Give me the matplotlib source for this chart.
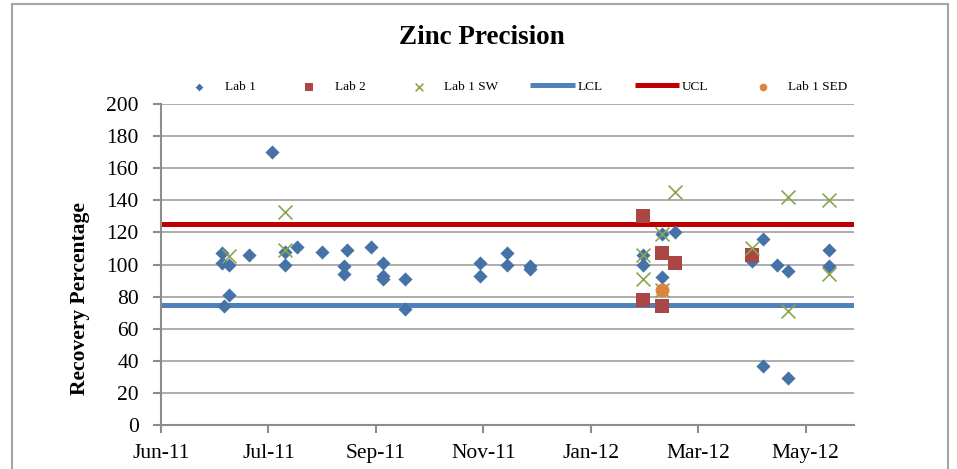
import matplotlib
matplotlib.use("Agg")
import matplotlib.pyplot as plt
import matplotlib.dates as mdates
import matplotlib.patches as mpatches
import numpy as np
import pandas as pd

# ---- data -------------------------------------------------------------
lab1_dates = ["2011-07-05", "2011-07-05", "2011-07-06", "2011-07-09", "2011-07-09",
              "2011-07-20", "2011-08-02", "2011-08-09", "2011-08-09", "2011-08-16",
              "2011-08-30", "2011-09-11", "2011-09-11", "2011-09-13", "2011-09-26",
              "2011-10-03", "2011-10-03", "2011-10-03", "2011-10-15", "2011-10-15",
              "2011-11-26", "2011-11-26", "2011-12-11", "2011-12-11", "2011-12-24",
              "2011-12-24", "2012-02-25", "2012-02-25", "2012-03-07", "2012-03-07",
              "2012-03-14", "2012-04-26", "2012-05-02", "2012-05-02", "2012-05-10",
              "2012-05-16", "2012-05-16", "2012-06-08", "2012-06-08"]
lab1_values = [107, 101, 74, 100, 81,
               106, 170, 108, 100, 111,
               108, 99, 94, 109, 111,
               101, 93, 91, 91, 72,
               101, 93, 107, 100, 99,
               97, 106, 100, 119, 92,
               120, 102, 116, 37, 100,
               96, 29, 109, 99]

lab2_dates = ["2012-02-25", "2012-02-25", "2012-03-07", "2012-03-07", "2012-03-14", "2012-04-26"]
lab2_values = [130, 78, 107, 74, 101, 106]

lab1sw_dates = ["2011-07-09", "2011-08-09", "2011-08-09", "2012-02-25", "2012-02-25",
                "2012-03-07", "2012-03-07", "2012-03-14", "2012-04-26", "2012-05-16",
                "2012-05-16", "2012-06-08", "2012-06-08"]
lab1sw_values = [105, 133, 109, 106, 91,
                 119, 84, 145, 110, 142,
                 71, 140, 94]

lab1sed_dates = ["2012-03-07"]
lab1sed_values = [84]

limit_dates = ["2011-06-01", "2012-06-23"]
lcl_values = [75, 75]
ucl_values = [125, 125]

axis_start = "2011-06-01"
axis_end = "2012-06-22"
tick_step_days = 60
y_ticks = list(range(0, 201, 20))

# ---- figure -----------------------------------------------------------
W, H = 957, 469
fig = plt.figure(figsize=(W / 100, H / 100), dpi=100)
plt.rcParams["font.family"] = ["Liberation Serif", "DejaVu Serif"]

def fx(px):
    return px / W

def fy(py):
    return 1 - py / H

ax = fig.add_axes([fx(161), fy(425), fx(854) - fx(161), fy(104) - fy(425)])

d = pd.to_datetime
ax.plot(d(limit_dates), lcl_values, color="#4F81BD", lw=3.6, zorder=2,
        label="LCL", solid_capstyle="butt")
ax.plot(d(limit_dates), ucl_values, color="#C00000", lw=3.6, zorder=2,
        label="UCL", solid_capstyle="butt")

h1 = ax.scatter(d(lab1_dates), lab1_values, marker="D", s=7.2 ** 2,
                color="#4572A7", linewidths=0, zorder=3, label="Lab 1")
h2 = ax.scatter(d(lab2_dates), lab2_values, marker="s", s=10.3 ** 2,
                color="#AA4643", linewidths=0, zorder=4, label="Lab 2")
h3 = ax.scatter(d(lab1sw_dates), lab1sw_values, marker="x", s=10 ** 2,
                color="#89A54E", linewidths=1.2, zorder=5, label="Lab 1 SW")
h4 = ax.scatter(d(lab1sed_dates), lab1sed_values, marker="o", s=10 ** 2,
                color="#DB843D", linewidths=0, zorder=6, label="Lab 1 SED")

ax.set_xlim(d(axis_start), d(axis_end))
ax.set_ylim(0, 200)
ax.set_yticks(y_ticks)
ticks = [d(axis_start) + pd.Timedelta(days=tick_step_days * k) for k in range(7)]
ax.set_xticks(ticks)
ax.xaxis.set_major_formatter(mdates.DateFormatter("%b-%y"))

ax.grid(axis="y", color="#a0a0a0", lw=1.2, zorder=0)
ax.set_axisbelow(True)
for s in ("top", "right"):
    ax.spines[s].set_visible(False)
for s in ("left", "bottom"):
    ax.spines[s].set_color("#8c8c8c")
    ax.spines[s].set_linewidth(1.5)
ax.tick_params(axis="both", colors="#8c8c8c", length=6, width=1.5, direction="out",
               labelcolor="black", labelsize=15.5)
ax.tick_params(axis="y", pad=10)
ax.tick_params(axis="x", pad=8)

# title and axis label
fig.text(fx(482), fy(38), "Zinc Precision", ha="center", va="center",
         fontsize=19.5, fontweight="bold")
fig.text(fx(80), fy(299), "Recovery Percentage", ha="center", va="center",
         rotation=90, fontsize=15.5, fontweight="bold")

# legend
handles = [h1, h2, h3, ax.lines[0], ax.lines[1], h4]
labels = ["Lab 1", "Lab 2", "Lab 1 SW", "LCL", "UCL", "Lab 1 SED"]
leg = fig.legend(handles, labels, loc="center", bbox_to_anchor=(fx(512), fy(87)),
                 ncol=6, frameon=False, fontsize=9.5, handlelength=3.4,
                 handletextpad=0.2, columnspacing=2.4, markerscale=0.55)

# chart frame
frame = mpatches.Rectangle((fx(12), -0.05), fx(948) - fx(12), fy(4) + 0.05,
                           transform=fig.transFigure, fill=False,
                           edgecolor="#a6a6a6", lw=1.6, clip_on=False)
fig.patches.append(frame)

fig.savefig("out.png", dpi=100)
